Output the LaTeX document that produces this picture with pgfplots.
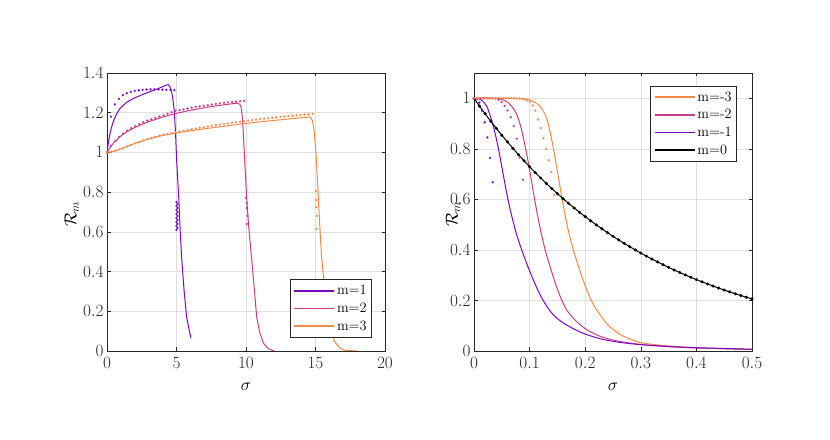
\documentclass[border=0pt]{standalone}
\usepackage{pgfplots}
\pgfplotsset{compat=1.18}
\definecolor{cpur}{RGB}{122,8,195}
\definecolor{cpink}{RGB}{204,58,138}
\definecolor{corg}{RGB}{248,138,70}
\definecolor{axc}{RGB}{38,38,38}
\definecolor{gridc}{RGB}{223,223,223}
\pgfplotsset{
 myax/.style={
  scale only axis, width=278bp, height=278bp,
  axis line style={axc, line width=0.5pt},
  tick style={axc, line width=0.5pt},
  major tick length=3.5bp,
  tick align=inside, xtick pos=both, ytick pos=both,
  grid=major, major grid style={gridc, line width=0.5pt},
  ticklabel style={font=\fontsize{16}{19}\selectfont, text=axc},
  xticklabel style={yshift=-3bp},
  label style={font=\fontsize{17.6}{21}\selectfont},
  legend style={font=\fontsize{14.4}{17}\selectfont, draw=axc, line width=0.5pt, fill=white,
     inner xsep=3bp, inner ysep=4bp, row sep=2.6bp, cells={anchor=west}},
  legend image code/.code={\draw[#1,line width=1.7pt] (0bp,0bp) -- (40bp,0bp);},
 },
 ln/.style={line width=1pt, no marks, draw=#1, color=#1},
 dots/.style={only marks, mark=*, mark size=1.1bp, mark options={solid, line width=0.1pt}, forget plot},
}
\begin{document}
\begin{tikzpicture}
\useasboundingbox (0,0) rectangle (830bp,440bp);
% ---------------- left panel ----------------
\begin{axis}[myax, at={(107bp,89bp)}, anchor=south west,
  xmin=0, xmax=20, ymin=0, ymax=1.4,
  xtick={0,5,10,15,20}, ytick={0,0.2,0.4,0.6,0.8,1,1.2,1.4},
  xlabel={$\sigma$}, ylabel={$\mathcal{R}_m$},
  xlabel style={at={(axis description cs:0.5,-0.13)}, anchor=center},
  ylabel style={at={(axis description cs:-0.127,0.493)}, anchor=center},
  legend style={at={(0.953,0.047)}, anchor=south east}]
\addplot[ln=cpur] coordinates {(0,1) (0.1,1.05) (0.2,1.09) (0.3,1.12) (0.45,1.155) (0.7,1.195) (0.94,1.222) (1.4,1.252) (1.9,1.272) (2.5,1.29) (3.1,1.306) (3.7,1.322) (4.1,1.334) (4.3,1.34) (4.42,1.341) (4.53,1.331) (4.63,1.31) (4.72,1.28) (4.84,1.21) (4.93,1.10) (5.01,0.96) (5.1,0.85) (5.18,0.744) (5.27,0.6) (5.37,0.47) (5.55,0.30) (5.73,0.17) (5.9,0.11) (6.04,0.064)};
\addlegendentry{m=1}
\addplot[ln=cpink] coordinates {(0,1) (0.2,1.022) (0.5,1.05) (1,1.083) (1.42,1.104) (2,1.126) (3,1.155) (4,1.178) (5,1.197) (6,1.212) (7,1.225) (8,1.236) (9.09,1.246) (9.4,1.248) (9.55,1.243) (9.65,1.228) (9.76,1.163) (9.88,0.995) (10.05,0.77) (10.2,0.62) (10.4,0.47) (10.6,0.31) (10.77,0.17) (11.0,0.09) (11.25,0.04) (11.6,0.012) (12.04,0.0)};
\addlegendentry{m=2}
\addplot[ln=corg] coordinates {(0,1) (0.5,1.006) (1,1.018) (2,1.045) (3,1.068) (4,1.085) (5,1.098) (6,1.109) (7,1.119) (8,1.128) (9,1.137) (10,1.146) (11,1.154) (12,1.161) (13,1.168) (14,1.175) (14.5,1.178) (14.65,1.176) (14.78,1.16) (14.9,1.11) (15.04,0.995) (15.15,0.85) (15.3,0.64) (15.44,0.47) (15.6,0.36) (15.8,0.257) (16.0,0.16) (16.17,0.09) (16.4,0.045) (16.77,0.013) (17.2,0.003) (18.03,0)};
\addlegendentry{m=3}
% dots m=1
\addplot[dots, cpur] coordinates {(0,1.0) (0.285,1.18) (0.57,1.242) (0.855,1.27) (1.14,1.288) (1.425,1.298) (1.71,1.305) (1.995,1.31) (2.28,1.313) (2.565,1.315) (2.85,1.317) (3.135,1.318) (3.42,1.318) (3.705,1.317) (3.99,1.316) (4.275,1.315) (4.56,1.315) (4.845,1.314)
 (5.0,0.75) (5.0,0.73) (5.0,0.71) (5.0,0.69) (5.0,0.67) (5.0,0.65) (5.0,0.63) (5.0,0.61)
 (5.07,0.74) (5.07,0.72) (5.07,0.70) (5.07,0.68) (5.07,0.66) (5.07,0.64) (5.07,0.62)};
% dots m=2
\addplot[dots, cpink] coordinates {(0,1.0) (0.29,1.035) (0.58,1.057) (0.87,1.078) (1.16,1.095) (1.45,1.11) (1.74,1.122) (2.03,1.133) (2.32,1.143) (2.61,1.152) (2.9,1.16) (3.19,1.167) (3.48,1.174) (3.77,1.18) (4.06,1.186) (4.35,1.195) (4.64,1.203) (4.93,1.21) (5.22,1.213) (5.51,1.217) (5.8,1.221) (6.09,1.225) (6.38,1.229) (6.67,1.232) (6.96,1.235) (7.25,1.238) (7.54,1.241) (7.83,1.244) (8.12,1.247) (8.41,1.25) (8.7,1.252) (8.99,1.254) (9.28,1.256) (9.57,1.258) (9.86,1.26)
 (10.0,0.77) (10.05,0.745) (10.05,0.72) (10.1,0.68) (10.05,0.64)};
% dots m=3
\addplot[dots, corg] coordinates {(0,1.000) (0.29,1.003) (0.58,1.008) (0.87,1.015) (1.16,1.022) (1.45,1.030) (1.74,1.038) (2.03,1.046) (2.32,1.053) (2.61,1.060) (2.9,1.067) (3.19,1.073) (3.48,1.079) (3.77,1.084) (4.06,1.089) (4.35,1.093) (4.64,1.097) (4.93,1.101) (5.22,1.105) (5.51,1.109) (5.8,1.113) (6.09,1.117) (6.38,1.12) (6.67,1.124) (6.96,1.127) (7.25,1.131) (7.54,1.134) (7.83,1.137) (8.12,1.140) (8.41,1.143) (8.7,1.146) (8.99,1.149) (9.28,1.152) (9.57,1.155) (9.86,1.158) (10.15,1.160) (10.44,1.163) (10.73,1.165) (11.02,1.168) (11.31,1.170) (11.6,1.172) (11.89,1.175) (12.18,1.177) (12.47,1.179) (12.76,1.181) (13.05,1.183) (13.34,1.185) (13.63,1.187) (13.92,1.189) (14.21,1.191) (14.5,1.192) (14.79,1.194)
 (15.03,0.805) (15.06,0.76) (15.06,0.725) (15.1,0.68) (15.08,0.615)};
\end{axis}
% ---------------- right panel ----------------
\begin{axis}[myax, at={(474bp,89bp)}, anchor=south west,
  xmin=0, xmax=0.5, ymin=0, ymax=1.1,
  xtick={0,0.1,0.2,0.3,0.4,0.5}, ytick={0,0.2,0.4,0.6,0.8,1},
  xlabel={$\sigma$}, ylabel={$\mathcal{R}_m$},
  xlabel style={at={(axis description cs:0.5,-0.13)}, anchor=center},
  ylabel style={at={(axis description cs:-0.0755,0.493)}, anchor=center},
  legend style={at={(0.946,0.955)}, anchor=north east}]
\addlegendimage{ln=corg}\addlegendentry{m=-3}
\addlegendimage{ln=cpink}\addlegendentry{m=-2}
\addlegendimage{ln=cpur}\addlegendentry{m=-1}
\addlegendimage{ln=black}\addlegendentry{m=0}
\addplot[ln=corg, smooth, tension=0.45, forget plot] coordinates {(0,1) (0.05,1) (0.08,0.999) (0.09,0.998) (0.1,0.993) (0.11,0.983) (0.12,0.965) (0.128,0.935) (0.135,0.885) (0.143,0.80) (0.15,0.71) (0.158,0.607) (0.165,0.525) (0.172,0.455) (0.18,0.39) (0.19,0.32) (0.2,0.258) (0.21,0.205) (0.22,0.165) (0.241,0.103) (0.265,0.063) (0.3,0.033) (0.35,0.02) (0.4,0.013) (0.45,0.009) (0.5,0.006)};
\addplot[ln=cpink, smooth, tension=0.45, forget plot] coordinates {(0,1) (0.02,1) (0.04,0.999) (0.05,0.995) (0.06,0.985) (0.07,0.962) (0.078,0.93) (0.085,0.88) (0.092,0.81) (0.099,0.73) (0.107,0.625) (0.114,0.54) (0.121,0.465) (0.128,0.40) (0.136,0.34) (0.146,0.27) (0.157,0.205) (0.168,0.158) (0.186,0.113) (0.204,0.083) (0.228,0.057) (0.259,0.039) (0.3,0.026) (0.35,0.017) (0.4,0.012) (0.45,0.009) (0.5,0.006)};
\addplot[ln=cpur, smooth, tension=0.45, forget plot] coordinates {(0,1) (0.008,0.998) (0.015,0.99) (0.023,0.968) (0.03,0.925) (0.037,0.87) (0.044,0.80) (0.052,0.705) (0.061,0.60) (0.07,0.515) (0.077,0.458) (0.085,0.405) (0.095,0.345) (0.105,0.29) (0.113,0.25) (0.123,0.205) (0.138,0.155) (0.15,0.128) (0.165,0.105) (0.186,0.08) (0.2,0.067) (0.228,0.048) (0.259,0.035) (0.3,0.025) (0.35,0.018) (0.4,0.013) (0.45,0.01) (0.5,0.007)};
\addplot[black, draw=black, line width=1pt, mark=*, mark size=1bp, mark options={solid}, forget plot] coordinates {(0,1) (0.01,0.9689) (0.02,0.9388) (0.03,0.9096) (0.04,0.8813) (0.05,0.8539) (0.06,0.8274) (0.07,0.8016) (0.08,0.7767) (0.09,0.7526) (0.10,0.7291) (0.11,0.7064) (0.12,0.6845) (0.13,0.6632) (0.14,0.6425) (0.15,0.6225) (0.16,0.6032) (0.17,0.5844) (0.18,0.5662) (0.19,0.5486) (0.20,0.5316) (0.21,0.5150) (0.22,0.4990) (0.23,0.4835) (0.24,0.4685) (0.25,0.4539) (0.26,0.4398) (0.27,0.4261) (0.28,0.4128) (0.29,0.4000) (0.30,0.3875) (0.31,0.3755) (0.32,0.3638) (0.33,0.3525) (0.34,0.3415) (0.35,0.3309) (0.36,0.3206) (0.37,0.3106) (0.38,0.3010) (0.39,0.2916) (0.40,0.2825) (0.41,0.2737) (0.42,0.2652) (0.43,0.2570) (0.44,0.2490) (0.45,0.2412) (0.46,0.2337) (0.47,0.2264) (0.48,0.2194) (0.49,0.2126) (0.50,0.2060)};
% dots m=-1
\addplot[dots, cpur] coordinates {(0,1) (0.0048,0.997) (0.0096,0.983) (0.0144,0.95) (0.0192,0.905) (0.024,0.845) (0.0288,0.764) (0.0336,0.668)};
% dots m=-2
\addplot[dots, cpink] coordinates {(0,1) (0.0055,1) (0.011,1) (0.0165,1) (0.022,1) (0.0275,1) (0.033,1) (0.0385,0.999) (0.044,0.994) (0.0495,0.985) (0.055,0.97) (0.0605,0.952) (0.066,0.925) (0.0715,0.89) (0.077,0.84) (0.0825,0.765) (0.088,0.678)};
% dots m=-3
\addplot[dots, corg] coordinates {(0,1) (0.0048,1) (0.0096,1) (0.0144,1) (0.0192,1) (0.024,1) (0.0288,1) (0.0336,1) (0.0384,1) (0.0432,1) (0.048,1) (0.0528,1) (0.0576,1) (0.0624,1) (0.0672,1) (0.072,1) (0.0768,0.999) (0.0816,0.999) (0.0864,0.998) (0.0912,0.996) (0.096,0.992) (0.1008,0.985) (0.1056,0.971) (0.1104,0.951) (0.1152,0.916) (0.12,0.882) (0.1248,0.842) (0.1296,0.8) (0.1344,0.755) (0.1392,0.708) (0.144,0.618)};
\end{axis}
\end{tikzpicture}
\end{document}
